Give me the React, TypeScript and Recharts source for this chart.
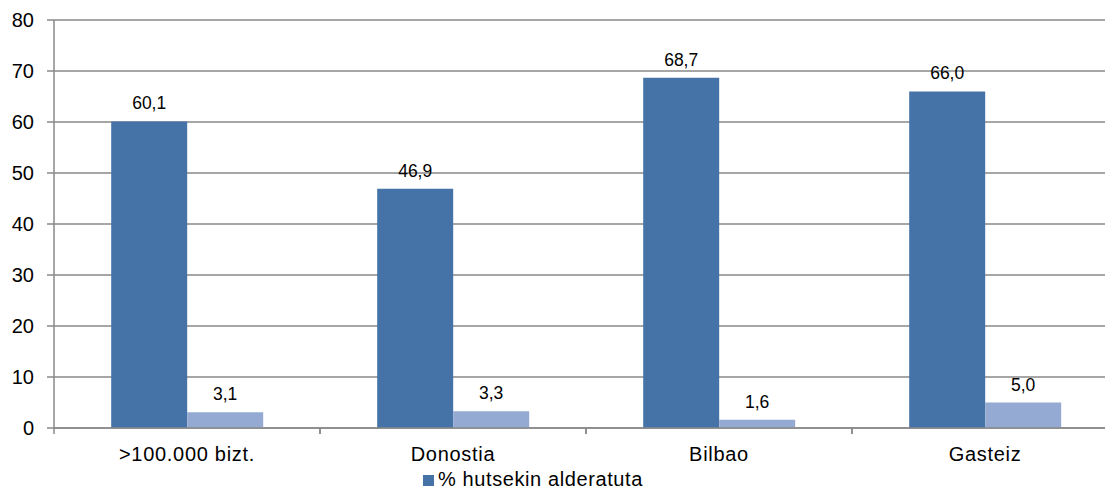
import React from 'react';
import { BarChart, Bar, XAxis, YAxis, CartesianGrid, Legend, LabelList } from 'recharts';

const categories = ['>100.000 bizt.', 'Donostia', 'Bilbao', 'Gasteiz'];
const seriesMain = [60.1, 46.9, 68.7, 66.0];
const seriesSecond = [3.1, 3.3, 1.6, 5.0];
const yTicks = [0, 10, 20, 30, 40, 50, 60, 70, 80];
const legendLabel = '% hutsekin alderatuta';

const data = categories.map((c, i) => ({ name: c, a: seriesMain[i], b: seriesSecond[i] }));

const DARK = '#4673a7';
const LIGHT = '#94aad3';
const GRID = '#888888';
const FONT = '"Liberation Sans", Arial, sans-serif';

const fmt = (v: any) => Number(v).toFixed(1).replace('.', ',');

const CatTick = (props: any) => {
  const { x, y, payload } = props;
  const off = payload && payload.offset ? payload.offset : 0;
  return (
    <g>
      <line x1={x - off} x2={x - off} y1={y - 19} y2={y - 13} stroke={GRID} strokeWidth={1.5} />
      <line x1={x + off} x2={x + off} y1={y - 19} y2={y - 13} stroke={GRID} strokeWidth={1.5} />
      <text x={x} y={y} dy="0.71em" textAnchor="middle" fontSize={20} letterSpacing={0.7} fill="#000" fontFamily={FONT}>
        {payload.value}
      </text>
    </g>
  );
};

const LegendContent = () => (
  <div style={{ display: 'flex', alignItems: 'center', fontFamily: FONT, fontSize: 20, letterSpacing: 0.6, color: '#000', height: 22 }}>
    <span style={{ display: 'inline-block', width: 11, height: 11, background: DARK, marginRight: 4, marginTop: 3 }} />
    <span>{legendLabel}</span>
  </div>
);

export default function App() {
  return (
    <div style={{ position: 'fixed', left: 0, top: 0, width: 1105, height: 490, overflow: 'hidden', background: '#fff' }}>
      <BarChart
        width={1118}
        height={490}
        data={data}
        margin={{ top: 20, right: 0, left: 0, bottom: 0 }}
        barCategoryGap="21.5%"
        barGap={0}
      >
        <CartesianGrid vertical={false} stroke={GRID} strokeWidth={1.5} />
        <XAxis
          dataKey="name"
          height={40}
          tickSize={6}
          tickMargin={13}
          tickLine={false}
          axisLine={{ stroke: GRID, strokeWidth: 1.5 }}
          tick={<CatTick />}
          interval={0}
        />
        <YAxis
          width={54}
          domain={[0, 80]}
          ticks={yTicks}
          tickSize={7}
          tickMargin={13}
          axisLine={{ stroke: GRID, strokeWidth: 1.5 }}
          tickLine={{ stroke: GRID, strokeWidth: 1.5 }}
          tick={{ fontSize: 20, fill: '#000', fontFamily: FONT }}
          interval={0}
        />
        <Legend
          verticalAlign="bottom"
          align="left"
          content={<LegendContent />}
          wrapperStyle={{ left: 423, bottom: 0, height: 22 }}
        />
        <Bar dataKey="a" name={legendLabel} fill={DARK} isAnimationActive={false}>
          <LabelList dataKey="a" position="top" offset={12} formatter={fmt} fontSize={17.5} fill="#000" fontFamily={FONT} />
        </Bar>
        <Bar dataKey="b" name="" legendType="none" fill={LIGHT} isAnimationActive={false}>
          <LabelList dataKey="b" position="top" offset={12} formatter={fmt} fontSize={17.5} fill="#000" fontFamily={FONT} />
        </Bar>
      </BarChart>
    </div>
  );
}
